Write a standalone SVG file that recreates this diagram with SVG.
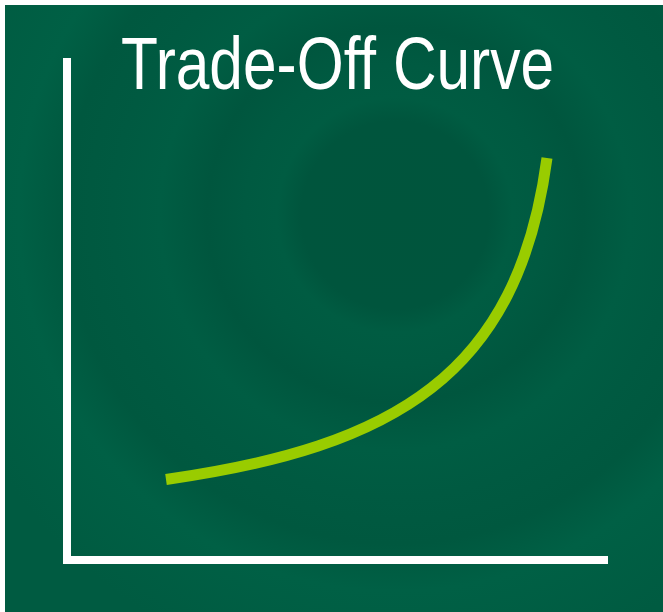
<svg xmlns="http://www.w3.org/2000/svg" width="663" height="612" viewBox="0 0 663 612">
  <defs>
    <radialGradient id="bg" gradientUnits="userSpaceOnUse" cx="395" cy="215" r="470">
      <stop offset="0" stop-color="#00553c"/>
      <stop offset="0.2" stop-color="#00553d"/>
      <stop offset="0.25" stop-color="#005c42"/>
      <stop offset="0.32" stop-color="#005a41"/>
      <stop offset="0.4" stop-color="#00563e"/>
      <stop offset="0.5" stop-color="#005d43"/>
      <stop offset="0.6" stop-color="#005a41"/>
      <stop offset="0.7" stop-color="#00583f"/>
      <stop offset="0.8" stop-color="#006045"/>
      <stop offset="1" stop-color="#005b41"/>
    </radialGradient>
    <style>
      .axis { stroke: #ffffff; stroke-width: 8; fill: none; stroke-linejoin: miter; }
      .curve { stroke: #99cc00; stroke-width: 11; fill: none; stroke-linecap: butt; }
      .title { font-family: "Liberation Sans", Arial, sans-serif; font-size: 74px; fill: #ffffff; }
    </style>
  </defs>
  <rect x="0" y="0" width="663" height="612" fill="#ffffff"/>
  <rect x="5" y="5" width="658" height="607" fill="url(#bg)"/>
  <g id="title">
    <text class="title" x="121" y="89" textLength="433" lengthAdjust="spacingAndGlyphs">Trade-Off Curve</text>
  </g>
  <g id="axes">
    <path class="axis" d="M67,58 L67,560 L608,560"/>
  </g>
  <g id="connectors">
    <path class="curve" d="M166,479.5 C395,447 518,375 547,158"/>
  </g>
</svg>
